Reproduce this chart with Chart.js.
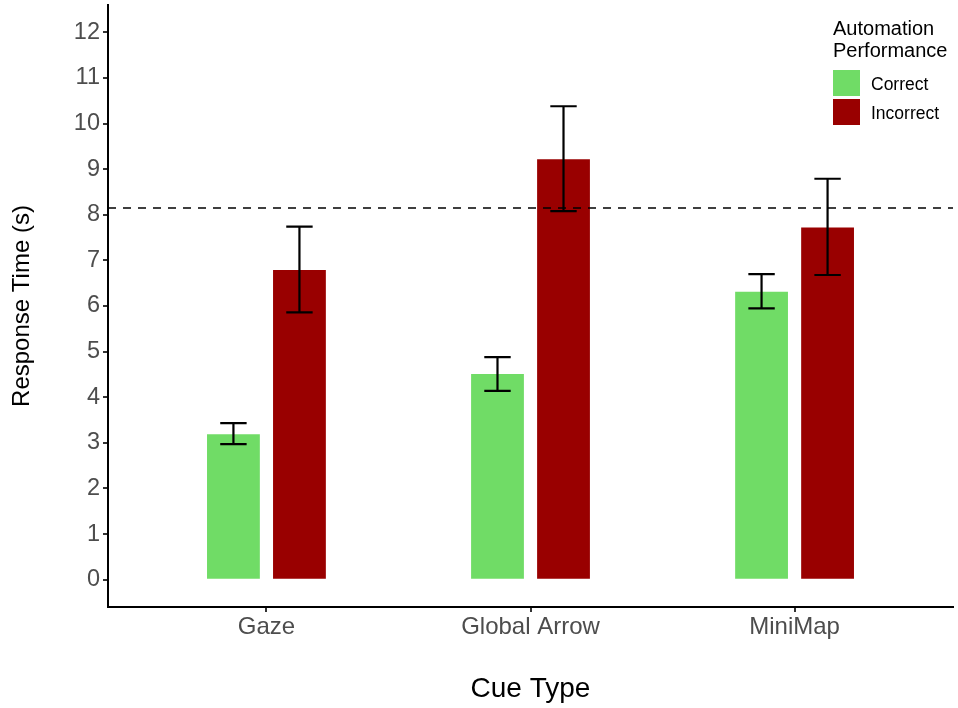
<!DOCTYPE html>
<html>
<head>
<meta charset="utf-8">
<script src="https://cdn.jsdelivr.net/npm/chart.js@4"></script>
<style>
  body { margin: 0; background: #fff; }
  #wrap { width: 958px; height: 708px; position: relative; }
</style>
</head>
<body>
<div id="wrap"><canvas id="myChart"></canvas></div>
<script>
const cues = ["Gaze", "Global Arrow", "MiniMap"];
const correctMean = [3.19, 4.51, 6.31];
const correctLow = [2.97, 4.14, 5.95];
const correctHigh = [3.43, 4.88, 6.70];
const incorrectMean = [6.79, 9.22, 7.72];
const incorrectLow = [5.86, 8.08, 6.68];
const incorrectHigh = [7.74, 10.38, 8.79];
const refLine = 8.15;
const yTicks = [0, 1, 2, 3, 4, 5, 6, 7, 8, 9, 10, 11, 12];

const green = "rgb(112, 220, 102)";
const darkRed = "#990000";
const tickGrey = "#4d4d4d";

Chart.defaults.font.family = "'Liberation Sans', Arial, sans-serif";

// error bars + dashed reference line
const errorBars = {
  id: "errorBars",
  afterDatasetsDraw(chart) {
    const ctx = chart.ctx;
    const y = chart.scales.y;
    const area = chart.chartArea;

    ctx.save();
    ctx.strokeStyle = "#000";
    ctx.lineWidth = 1.5;
    ctx.setLineDash([8, 7]);
    const ry = y.getPixelForValue(refLine);
    ctx.beginPath();
    ctx.moveTo(area.left, ry);
    ctx.lineTo(area.right, ry);
    ctx.stroke();
    ctx.setLineDash([]);

    ctx.lineWidth = 2.2;
    chart.data.datasets.forEach((ds, di) => {
      const meta = chart.getDatasetMeta(di);
      meta.data.forEach((bar, i) => {
        const lo = y.getPixelForValue(ds.errLow[i]);
        const hi = y.getPixelForValue(ds.errHigh[i]);
        const half = bar.width / 4;
        ctx.beginPath();
        ctx.moveTo(bar.x, lo);
        ctx.lineTo(bar.x, hi);
        ctx.moveTo(bar.x - half, lo);
        ctx.lineTo(bar.x + half, lo);
        ctx.moveTo(bar.x - half, hi);
        ctx.lineTo(bar.x + half, hi);
        ctx.stroke();
      });
    });
    ctx.restore();
  }
};

// ggplot style legend at top right
const sideLegend = {
  id: "sideLegend",
  afterDraw(chart) {
    const ctx = chart.ctx;
    ctx.save();
    ctx.fillStyle = "#000";
    ctx.textAlign = "left";
    ctx.textBaseline = "alphabetic";
    ctx.font = "20px 'Liberation Sans', Arial, sans-serif";
    ctx.fillText("Automation", 833, 35);
    ctx.fillText("Performance", 833, 56.5);
    ctx.font = "17.5px 'Liberation Sans', Arial, sans-serif";
    chart.data.datasets.forEach((ds, i) => {
      const top = 70 + i * 29;
      ctx.fillStyle = ds.backgroundColor;
      ctx.fillRect(833, top, 27, 26);
      ctx.fillStyle = "#000";
      ctx.fillText(ds.label, 871, top + 20);
    });
    ctx.restore();
  }
};

const data = {
  datasets: [
    {
      label: "Correct",
      data: cues.map((c, i) => ({ x: i, y: correctMean[i] })),
      errLow: correctLow,
      errHigh: correctHigh,
      backgroundColor: green,
      borderWidth: 0
    },
    {
      label: "Incorrect",
      data: cues.map((c, i) => ({ x: i, y: incorrectMean[i] })),
      errLow: incorrectLow,
      errHigh: incorrectHigh,
      backgroundColor: darkRed,
      borderWidth: 0
    }
  ]
};

const config = {
  type: "bar",
  data,
  options: {
    responsive: true,
    maintainAspectRatio: false,
    animation: false,
    categoryPercentage: 0.5,
    barPercentage: 0.8,
    layout: { padding: { left: 0, right: 5, top: 5, bottom: 0 } },
    plugins: {
      legend: { display: false },
      tooltip: { enabled: false }
    },
    scales: {
      x: {
        type: "linear",
        min: -0.6,
        max: 2.6,
        offset: false,
        afterBuildTicks: (scale) => { scale.ticks = cues.map((c, i) => ({ value: i })); },
        afterFit: (scale) => { scale.height = 101; },
        ticks: {
          callback: (v) => cues[v],
          color: tickGrey,
          font: { size: 24 },
          padding: 1,
          maxRotation: 0,
          autoSkip: false
        },
        grid: { drawOnChartArea: false, offset: false, tickLength: 5, color: "#333", lineWidth: 2 },
        border: { color: "#000", width: 2 },
        title: {
          display: true,
          text: "Cue Type",
          color: "#000",
          font: { size: 28 },
          padding: { top: 0, bottom: 2 }
        }
      },
      y: {
        min: -0.6,
        max: 12.6,
        afterBuildTicks: (scale) => { scale.ticks = yTicks.map(v => ({ value: v })); },
        afterFit: (scale) => {
          scale.width = 108;
          scale.paddingTop = 0;
          scale.paddingBottom = 0;
        },
        ticks: {
          color: tickGrey,
          font: { size: 23.5 },
          padding: 3
        },
        grid: { drawOnChartArea: false, tickLength: 5, color: "#333", lineWidth: 2 },
        border: { color: "#000", width: 2 },
        title: {
          display: true,
          text: "Response Time (s)",
          color: "#000",
          font: { size: 24 },
          padding: { top: 8, bottom: 0 }
        }
      }
    }
  },
  plugins: [errorBars, sideLegend]
};

const myChart = new Chart(document.getElementById("myChart"), config);
</script>
</body>
</html>
